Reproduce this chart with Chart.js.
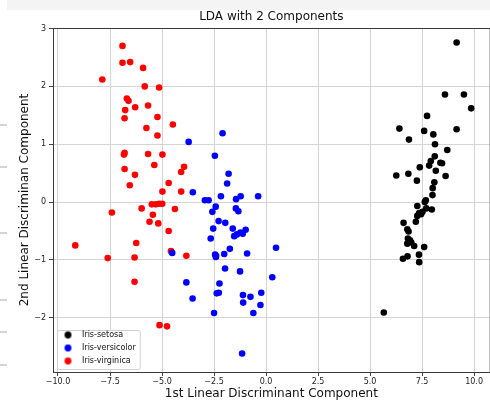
<!DOCTYPE html>
<html>
<head>
<meta charset="utf-8">
<script src="https://cdn.jsdelivr.net/npm/chart.js@4.4.1/dist/chart.umd.min.js"></script>
<style>
  html, body { margin: 0; padding: 0; background: #fff; overflow: hidden; }
  #wrap { position: relative; width: 493px; height: 402px; }
  .band { position: absolute; left: 7px; top: 0; width: 486px; height: 10px; background: #f4f4f4; }
  .dash { position: absolute; left: 0; width: 7px; height: 2px; background: #cfd6e0; }
</style>
</head>
<body>
<div id="wrap">
  <div class="band"></div>
  <div class="dash" style="top:124px"></div>
  <div class="dash" style="top:166px"></div>
  <div class="dash" style="top:232px"></div>
  <div class="dash" style="top:299px"></div>
  <div class="dash" style="top:331px"></div>
  <div class="dash" style="top:364px"></div>
  <canvas id="lda"></canvas>
</div>
<script>
// tick positions as matplotlib drew them
const X_TICKS = [-10, -7.5, -5, -2.5, 0, 2.5, 5, 7.5, 10];
const Y_TICKS = [-2, -1, 0, 1, 2, 3];

const SPECIES = ['Iris-setosa', 'Iris-versicolor', 'Iris-virginica'];
const SPECIES_COLORS = ['#000000', '#0000ff', '#ff0000'];

// LDA projections
const setosaX = [9.16, 8.60, 9.51, 9.86, 7.74, 6.41, 7.60, 8.04, 9.16, 6.87,
                 8.12, 8.71, 8.11, 7.92, 7.84, 7.39, 8.38, 8.46, 8.16, 8.63,
                 6.26, 6.84, 7.25, 8.09, 8.01, 8.00, 7.68, 7.63, 7.27, 7.97,
                 7.70, 7.52, 7.36, 7.27, 7.45, 7.20, 6.61, 6.79, 6.85, 6.82,
                 6.92, 6.79, 6.98, 7.12, 7.60, 7.35, 6.58, 6.80, 7.36, 5.66];
const setosaY = [2.76, 1.86, 1.86, 1.62, 1.49, 1.27, 1.23, 1.17, 1.26, 1.08,
                 1.00, 0.90, 0.79, 0.71, 0.63, 0.60, 0.68, 0.67, 0.54, 0.45,
                 0.46, 0.49, 0.37, 0.34, 0.24, 0.12, 0.03, 0.00, -0.07, -0.13,
                 -0.11, -0.17, -0.19, -0.24, -0.21, -0.34, -0.36, -0.47, -0.51, -0.63,
                 -0.66, -0.72, -0.70, -0.76, -0.78, -0.91, -0.98, -0.94, -1.04, -1.91];

const versicolorX = [-3.72, -2.09, -2.46, -1.80, -1.87, -3.52, -2.17, -1.22, -0.38, -2.94,
                     -2.76, -1.44, -2.42, -2.58, -1.45, -1.33, -2.28, -1.96, -2.54, -1.60,
                     -1.53, -1.23, -0.98, -1.12, -2.66, -1.74, 0.48, -2.45, -2.41, -2.01,
                     -0.91, -4.51, -1.97, -1.25, 0.30, -3.83, -2.24, -3.53, -2.37, -2.27,
                     -1.11, -0.75, -0.23, -1.10, -0.27, -2.50, -0.61, -1.15, -1.40, -2.40];
const versicolorY = [1.04, 1.19, 0.80, 0.49, 0.32, 0.17, 0.10, 0.10, 0.10, 0.03,
                     0.03, 0.05, -0.08, -0.17, -0.11, -0.16, -0.33, -0.36, -0.46, -0.46,
                     -0.59, -0.53, -0.48, -0.55, -0.63, -0.81, -0.79, -0.91, -0.95, -0.90,
                     -0.89, -0.88, -1.15, -1.20, -1.30, -1.39, -1.41, -1.67, -1.58, -1.57,
                     -1.61, -1.64, -1.57, -1.74, -1.78, -1.92, -1.92, -2.62, -0.56, -0.93];

const virginicaX = [-6.90, -6.90, -6.53, -5.91, -7.87, -5.83, -5.14, -6.69, -6.61, -6.77,
                    -6.29, -5.67, -6.80, -5.22, -5.75, -4.48, -5.22, -6.80, -6.83, -5.67,
                    -4.98, -5.37, -6.80, -6.30, -3.94, -4.08, -6.55, -4.68, -4.98, -4.08,
                    -5.49, -5.30, -5.14, -4.99, -7.41, -5.98, -5.44, -4.38, -5.60, -5.18,
                    -4.68, -9.17, -6.24, -7.61, -6.32, -4.57, -3.83, -6.32, -5.12, -4.76];
const virginicaY = [2.70, 2.41, 2.42, 2.32, 2.12, 2.00, 1.98, 1.79, 1.75, 1.59,
                    1.64, 1.67, 1.45, 1.47, 1.28, 1.34, 1.15, 0.85, 0.82, 0.83,
                    0.82, 0.64, 0.57, 0.47, 0.61, 0.52, 0.29, 0.33, 0.18, 0.18,
                    -0.04, -0.04, -0.03, -0.03, -0.18, -0.11, -0.22, -0.12, -0.34, -0.37,
                    -0.50, -0.75, -0.71, -0.97, -0.96, -0.85, -0.93, -1.38, -2.13, -2.15];

const FONT = "'DejaVu Sans', 'Liberation Sans', sans-serif";
const LEGEND_FONT = 8;
const LEGEND_PAD = 5;

function toPoints(xs, ys) {
    return xs.map((x, i) => ({ x: x, y: ys[i] }));
}

// matplotlib style minus sign on tick labels
function mplLabel(v, digits) {
    const s = Math.abs(v).toFixed(digits);
    return v < 0 ? '\u2212' + s : s;
}

// small round marker used as legend handle (keeps the 2em handle spacing)
function legendDot(color) {
    const c = document.createElement('canvas');
    c.width = 9; c.height = 9;
    const g = c.getContext('2d');
    g.fillStyle = color;
    g.beginPath();
    g.arc(4.5, 4.5, 3.4, 0, Math.PI * 2);
    g.fill();
    return c;
}

// full box round the axes, like matplotlib spines
const axesFrame = {
    id: 'axesFrame',
    beforeDatasetsDraw(chart) {
        const { ctx, chartArea: a } = chart;
        ctx.save();
        ctx.strokeStyle = '#3a3a3a';
        ctx.lineWidth = 1;
        ctx.strokeRect(a.left + 0.5, a.top + 0.5, a.right - a.left, a.bottom - a.top);
        ctx.restore();
    }
};

// the chartArea legend box comes back with top = 0, put it over the plot area
// (sitting a bit above the bottom spine like matplotlib's lower left legend)
const legendFrame = {
    id: 'legendFrame',
    afterLayout(chart) {
        const lg = chart.legend;
        if (!lg) return;
        lg.top = chart.chartArea.top;
        lg.bottom = chart.chartArea.bottom - 2;
    },
    afterDatasetsDraw(chart) {
        const lg = chart.legend;
        if (!lg || !lg.legendItems || !lg.legendItems.length) return;
        const n = lg.legendItems.length;
        const colH = n * (LEGEND_FONT + LEGEND_PAD);
        const y0 = lg.bottom - colH;
        const widths = (lg.legendHitBoxes || []).map(b => b.width);
        const itemW = widths.length ? Math.max(...widths) : 77;
        const left = lg.left + LEGEND_PAD - 1;
        const right = lg.left + LEGEND_PAD + itemW + 4;
        const top = y0 - 1;
        const bottom = y0 + colH - LEGEND_PAD + 4;
        const ctx = chart.ctx;
        ctx.save();
        ctx.beginPath();
        ctx.roundRect(left + 0.5, top + 0.5, right - left, bottom - top, 2);
        ctx.fillStyle = 'rgba(255,255,255,0.85)';
        ctx.fill();
        ctx.strokeStyle = '#d0d0d0';
        ctx.lineWidth = 1;
        ctx.stroke();
        ctx.restore();
        lg.draw();
    }
};

const datasets = [
    { label: SPECIES[0], data: toPoints(setosaX, setosaY) },
    { label: SPECIES[1], data: toPoints(versicolorX, versicolorY) },
    { label: SPECIES[2], data: toPoints(virginicaX, virginicaY) }
].map((ds, i) => Object.assign(ds, {
    backgroundColor: SPECIES_COLORS[i],
    borderColor: SPECIES_COLORS[i],
    borderWidth: 0,
    pointRadius: 3.3,
    pointHoverRadius: 3.3
}));

new Chart(document.getElementById('lda'), {
    type: 'scatter',
    data: { datasets: datasets },
    plugins: [axesFrame, legendFrame],
    options: {
        responsive: true,
        maintainAspectRatio: false,
        animation: false,
        layout: { padding: 0 },
        plugins: {
            title: {
                display: true,
                text: 'LDA with 2 Components',
                fullSize: false,
                color: '#111',
                font: { family: FONT, size: 12, weight: 'normal' },
                padding: { top: 10, bottom: 3.6 }
            },
            legend: {
                position: 'chartArea',
                align: 'end',
                labels: {
                    usePointStyle: true,
                    pointStyleWidth: 20,
                    padding: LEGEND_PAD,
                    color: '#222',
                    font: { family: FONT, size: LEGEND_FONT },
                    generateLabels(chart) {
                        const items = Chart.defaults.plugins.legend.labels.generateLabels(chart);
                        items.forEach((it, i) => { it.pointStyle = legendDot(SPECIES_COLORS[i]); });
                        return items;
                    }
                }
            },
            tooltip: { enabled: false }
        },
        scales: {
            x: {
                type: 'linear',
                min: -10.24,
                max: 10.75,
                afterBuildTicks: s => { s.ticks = X_TICKS.map(v => ({ value: v })); },
                afterFit: s => { s.height = 30; },
                grid: { color: '#d4d4d4', lineWidth: 1, tickColor: '#444', tickLength: 4 },
                border: { display: false },
                ticks: {
                    padding: 1,
                    color: '#222',
                    maxRotation: 0,
                    font: { family: FONT, size: 8 },
                    callback: v => mplLabel(v, 1)
                },
                title: {
                    display: true,
                    text: '1st Linear Discriminant Component',
                    color: '#111',
                    font: { family: FONT, size: 12 },
                    padding: { top: 0, bottom: 1 }
                }
            },
            y: {
                type: 'linear',
                min: -2.94,
                max: 3.01,
                afterBuildTicks: s => { s.ticks = Y_TICKS.map(v => ({ value: v })); },
                afterFit: s => { s.width = 53; },
                grid: { color: '#d4d4d4', lineWidth: 1, tickColor: '#444', tickLength: 4 },
                border: { display: false },
                ticks: {
                    padding: 3,
                    color: '#222',
                    font: { family: FONT, size: 8 },
                    callback: v => mplLabel(v, 0)
                },
                title: {
                    display: true,
                    text: '2nd Linear Discriminan Component',
                    color: '#111',
                    font: { family: FONT, size: 12 },
                    padding: { top: 18, bottom: 0 }
                }
            }
        }
    }
});
</script>
</body>
</html>
